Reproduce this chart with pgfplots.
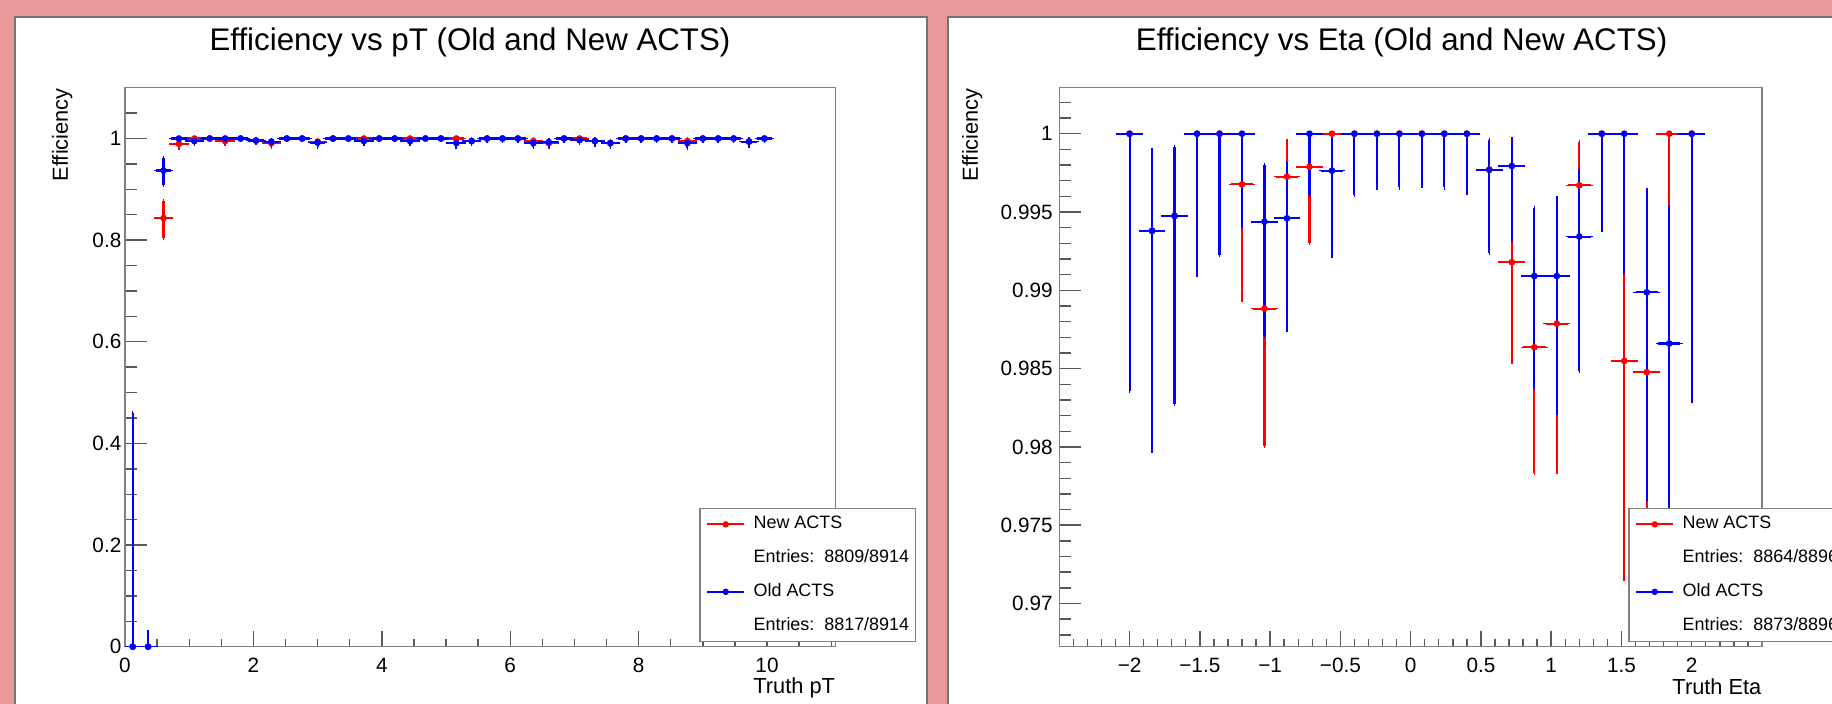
\documentclass[border=0pt]{standalone}
\usepackage{fontspec}
\setmainfont{Liberation Sans}
\usepackage{pgfplots}
\usepackage{pgfplotstable}
\pgfplotsset{compat=1.18}
\definecolor{bgpink}{RGB}{233,153,153}
\definecolor{rred}{RGB}{255,0,0}
\definecolor{rblue}{RGB}{0,0,255}

% pT: x, y, x error, y error plus, y error minus
\pgfplotstableread{
x y ex ep em
0.12 0 0.12 0.46 0
0.36 0 0.12 0.028 0
0.60 0.8435 0.12 0.034 0.040
0.84 0.9895 0.12 0.005 0.008
1.08 1 0.12 0 0.003
1.32 1 0.12 0 0.003
1.56 0.995 0.12 0.003 0.006
1.80 1 0.12 0 0.003
2.04 0.996 0.12 0.003 0.005
2.28 0.991 0.12 0.004 0.008
2.52 1 0.12 0 0.003
2.76 1 0.12 0 0.003
3.00 0.994 0.12 0.003 0.007
3.24 1 0.12 0 0.003
3.48 1 0.12 0 0.003
3.72 1 0.12 0 0.003
3.96 1 0.12 0 0.003
4.20 1 0.12 0 0.003
4.44 1 0.12 0 0.003
4.68 1 0.12 0 0.003
4.92 1 0.12 0 0.003
5.16 1 0.12 0 0.004
5.40 0.995 0.12 0.003 0.006
5.64 1 0.12 0 0.004
5.88 1 0.12 0 0.004
6.12 1 0.12 0 0.004
6.36 0.995 0.12 0.003 0.007
6.60 0.991 0.12 0.004 0.008
6.84 1 0.12 0 0.004
7.08 1 0.12 0 0.004
7.32 0.995 0.12 0.003 0.007
7.56 0.991 0.12 0.004 0.008
7.80 1 0.12 0 0.004
8.04 1 0.12 0 0.004
8.28 1 0.12 0 0.004
8.52 1 0.12 0 0.004
8.76 0.995 0.12 0.003 0.007
9.00 1 0.12 0 0.004
9.24 1 0.12 0 0.004
9.48 1 0.12 0 0.004
9.72 0.994 0.12 0.004 0.008
9.96 1 0.12 0 0.005
}\ptnew

\pgfplotstableread{
x y ex ep em
0.12 0 0.12 0.46 0
0.36 0 0.12 0.028 0
0.60 0.937 0.12 0.024 0.029
0.84 1 0.12 0 0.004
1.08 0.995 0.12 0.003 0.006
1.32 1 0.12 0 0.003
1.56 1 0.12 0 0.003
1.80 1 0.12 0 0.003
2.04 0.996 0.12 0.003 0.005
2.28 0.994 0.12 0.003 0.007
2.52 1 0.12 0 0.003
2.76 1 0.12 0 0.003
3.00 0.992 0.12 0.004 0.008
3.24 1 0.12 0 0.003
3.48 1 0.12 0 0.003
3.72 0.995 0.12 0.003 0.006
3.96 1 0.12 0 0.003
4.20 1 0.12 0 0.003
4.44 0.995 0.12 0.003 0.006
4.68 1 0.12 0 0.003
4.92 1 0.12 0 0.003
5.16 0.991 0.12 0.004 0.008
5.40 0.995 0.12 0.003 0.006
5.64 1 0.12 0 0.004
5.88 1 0.12 0 0.004
6.12 1 0.12 0 0.004
6.36 0.991 0.12 0.004 0.008
6.60 0.993 0.12 0.004 0.007
6.84 1 0.12 0 0.004
7.08 0.997 0.12 0.002 0.006
7.32 0.995 0.12 0.003 0.007
7.56 0.991 0.12 0.004 0.008
7.80 1 0.12 0 0.004
8.04 1 0.12 0 0.004
8.28 1 0.12 0 0.004
8.52 1 0.12 0 0.004
8.76 0.991 0.12 0.004 0.009
9.00 1 0.12 0 0.004
9.24 1 0.12 0 0.004
9.48 1 0.12 0 0.004
9.72 0.994 0.12 0.004 0.008
9.96 1 0.12 0 0.005
}\ptold

% Eta
\pgfplotstableread{
x y ex ep em
-2.00 1 0.08 0 0.01645
-1.84 0.9938 0.08 0.00517 0.01404
-1.68 0.99475 0.08 0.00439 0.01198
-1.52 1 0.08 0 0.00901
-1.36 1 0.08 0 0.00772
-1.20 0.99677 0.08 0.0027 0.00739
-1.04 0.98883 0.08 0.0067 0.00878
-0.88 0.99726 0.08 0.00227 0.00617
-0.72 0.99789 0.08 0.00177 0.00485
-0.56 1 0.08 0 0.00436
-0.40 1 0.08 0 0.00389
-0.24 1 0.08 0 0.00343
-0.08 1 0.08 0 0.00343
0.08 1 0.08 0 0.00332
0.24 1 0.08 0 0.00343
0.40 1 0.08 0 0.00379
0.56 0.9977 0.08 0.0019 0.0053
0.72 0.99179 0.08 0.00393 0.00639
0.88 0.98636 0.08 0.00541 0.00803
1.04 0.98787 0.08 0.00576 0.00946
1.20 0.9967 0.08 0.00275 0.00744
1.36 1 0.08 0 0.00617
1.52 0.98549 0.08 0.00791 0.01391
1.68 0.98477 0.08 0.00829 0.0093
1.84 1 0.08 0 0.0053
2.00 1 0.08 0 0.01708
}\etanew

\pgfplotstableread{
x y ex ep em
-2.00 1 0.08 0 0.01645
-1.84 0.9938 0.08 0.00517 0.01404
-1.68 0.99475 0.08 0.00439 0.01198
-1.52 1 0.08 0 0.00901
-1.36 1 0.08 0 0.00772
-1.20 1 0.08 0 0.00591
-1.04 0.99438 0.08 0.00362 0.0073
-0.88 0.9946 0.08 0.00349 0.00713
-0.72 1 0.08 0 0.00391
-0.56 0.99764 0.08 0.00193 0.00545
-0.40 1 0.08 0 0.00389
-0.24 1 0.08 0 0.00343
-0.08 1 0.08 0 0.00343
0.08 1 0.08 0 0.00332
0.24 1 0.08 0 0.00343
0.40 1 0.08 0 0.00379
0.56 0.9977 0.08 0.0019 0.0053
0.72 0.99794 0.08 0.00172 0.00471
0.88 0.99091 0.08 0.00437 0.00713
1.04 0.99091 0.08 0.00496 0.00877
1.20 0.99343 0.08 0.00425 0.00858
1.36 1 0.08 0 0.00617
1.52 1 0.08 0 0.00885
1.68 0.98987 0.08 0.00656 0.01322
1.84 0.9866 0.08 0.0087 0.0121
2.00 1 0.08 0 0.01708
}\etaold

\newcommand\tickfont{\fontsize{5.9}{7}\selectfont}
\newcommand\labfont{\fontsize{6.2}{7.5}\selectfont}
\newcommand\legfont{\fontsize{5.1}{6}\selectfont}
\newcommand\titfont{\fontsize{8.9}{10.5}\selectfont}

\pgfplotsset{
  rootbase/.style={
    scale only axis, height=5.59cm,
    axis line style={draw=black!50, line width=0.4pt},
    tick style={draw=black!65, line width=0.4pt},
    tick align=inside, tick pos=left,
    tick label style={font=\tickfont, inner sep=0pt},
    xticklabel style={yshift=-0.11cm},
    /pgf/number format/assume math mode=true,
  },
  rootdata/.style={
    only marks, mark=*, mark size=0.75pt, forget plot,
    error bars/.cd, x dir=both, x explicit, y dir=both, y explicit,
    error bar style={line width=0.6pt},
    error mark options={mark size=0.6pt, line width=0.45pt},
  },
  rootlegend/.style={
    legend image code/.code={%
      \draw[##1, line width=0.55pt] (0cm,0cm) -- (0.37cm,0cm);
      \fill[##1] (0.185cm,0cm) circle (0.7pt);},
    legend cell align=left,
    legend style={anchor=north west, draw=black!50, line width=0.4pt,
      fill=white, font=\legfont, inner xsep=1.8pt, inner ysep=2.05pt,
      row sep=4.6pt,
      nodes={inner sep=0pt, text height=3.8pt, text depth=1.2pt},
      /tikz/every odd column/.append style={column sep=2.4pt}},
  },
}

\begin{document}
\begin{tikzpicture}
\useasboundingbox (0,0) rectangle (18.32cm,7.04cm);
\clip (0,0) rectangle (18.32cm,7.04cm);
\fill[bgpink] (-0.1cm,-0.1cm) rectangle (18.5cm,7.2cm);
\filldraw[fill=white, draw=black!55, line width=0.6pt] (0.15cm,-0.2cm) rectangle (9.27cm,6.87cm);
\filldraw[fill=white, draw=black!55, line width=0.6pt] (9.48cm,-0.2cm) rectangle (19.2cm,6.87cm);

\node[anchor=base, font=\titfont, inner sep=0pt] at (4.70cm,6.537cm) {Efficiency vs pT (Old and New ACTS)};
\node[anchor=base, font=\titfont, inner sep=0pt] at (14.016cm,6.537cm) {Efficiency vs Eta (Old and New ACTS)};

% ---------- left panel: long y ticks ----------
\begin{axis}[rootbase, at={(1.25cm,0.573cm)}, anchor=south west, width=7.107cm,
  xmin=0, xmax=11.07, ymin=0, ymax=1.1,
  axis line style={draw=none},
  xtick=\empty, minor xtick={},
  ytick={0,0.2,0.4,0.6,0.8,1}, yticklabels={},
  minor ytick={0.05,0.1,0.15,0.25,0.3,0.35,0.45,0.5,0.55,0.65,0.7,0.75,0.85,0.9,0.95,1.05},
  major tick length=0.22cm, minor tick length=0.12cm]
\end{axis}

% ---------- left panel: main ----------
\begin{axis}[rootbase, rootlegend, at={(1.25cm,0.573cm)}, anchor=south west, width=7.107cm,
  xmin=0, xmax=11.07, ymin=0, ymax=1.1,
  xtick={0,2,4,6,8,10}, xticklabels={0,2,4,6,8,10},
  minor xtick={0.5,1,1.5,2.5,3,3.5,4.5,5,5.5,6.5,7,7.5,8.5,9,9.5,10.5,11},
  ytick={0,0.2,0.4,0.6,0.8,1}, yticklabels={0,0.2,0.4,0.6,0.8,1},
  yticklabel style={xshift=-0.03cm},
  minor ytick={0.05,0.1,0.15,0.25,0.3,0.35,0.45,0.5,0.55,0.65,0.7,0.75,0.85,0.9,0.95,1.05},
  major tick length=0.16cm, minor tick length=0.075cm,
  xlabel={Truth pT}, xlabel style={font=\labfont, at={(rel axis cs:1,0)}, anchor=north east, inner sep=0pt, yshift=-0.30cm},
  ylabel={Efficiency}, ylabel style={font=\labfont, at={(rel axis cs:-0.0884,1)}, anchor=east, inner sep=0pt},
  legend style={at={(0.808,0.2487)}}]
\addplot[rred, rootdata] table[x=x, y=y, x error=ex, y error plus=ep, y error minus=em] {\ptnew};
\addplot[rblue, rootdata] table[x=x, y=y, x error=ex, y error plus=ep, y error minus=em] {\ptold};
\addlegendimage{rred}
\addlegendentry{New ACTS}
\addlegendimage{empty legend}
\addlegendentry{Entries:\ \ 8809/8914}
\addlegendimage{rblue}
\addlegendentry{Old ACTS}
\addlegendimage{empty legend}
\addlegendentry{Entries:\ \ 8817/8914}
\end{axis}

% ---------- right panel: long y ticks ----------
\begin{axis}[rootbase, at={(10.593cm,0.573cm)}, anchor=south west, width=7.027cm,
  xmin=-2.5, xmax=2.5, ymin=0.96724, ymax=1.00294,
  axis line style={draw=none},
  xtick=\empty, minor xtick={},
  ytick={0.97,0.975,0.98,0.985,0.99,0.995,1}, yticklabels={},
  minor ytick={0.968,0.969,0.971,0.972,0.973,0.974,0.976,0.977,0.978,0.979,0.981,0.982,0.983,0.984,0.986,0.987,0.988,0.989,0.991,0.992,0.993,0.994,0.996,0.997,0.998,0.999,1.001,1.002},
  major tick length=0.22cm, minor tick length=0.12cm]
\end{axis}

% ---------- right panel: main ----------
\begin{axis}[rootbase, rootlegend, at={(10.593cm,0.573cm)}, anchor=south west, width=7.027cm,
  xmin=-2.5, xmax=2.5, ymin=0.96724, ymax=1.00294,
  xtick={-2,-1.5,-1,-0.5,0,0.5,1,1.5,2},
  xticklabels={−2,−1.5,−1,−0.5,0,0.5,1,1.5,2},
  minor xtick={-2.4,-2.3,-2.2,-2.1,-1.9,-1.8,-1.7,-1.6,-1.4,-1.3,-1.2,-1.1,-0.9,-0.8,-0.7,-0.6,-0.4,-0.3,-0.2,-0.1,0.1,0.2,0.3,0.4,0.6,0.7,0.8,0.9,1.1,1.2,1.3,1.4,1.6,1.7,1.8,1.9,2.1,2.2,2.3,2.4},
  ytick={0.97,0.975,0.98,0.985,0.99,0.995,1},
  yticklabels={0.97,0.975,0.98,0.985,0.99,0.995,1},
  yticklabel style={xshift=-0.06cm},
  minor ytick={0.968,0.969,0.971,0.972,0.973,0.974,0.976,0.977,0.978,0.979,0.981,0.982,0.983,0.984,0.986,0.987,0.988,0.989,0.991,0.992,0.993,0.994,0.996,0.997,0.998,0.999,1.001,1.002},
  major tick length=0.16cm, minor tick length=0.075cm,
  xlabel={Truth Eta}, xlabel style={font=\labfont, at={(rel axis cs:1,0)}, anchor=north east, inner sep=0pt, yshift=-0.31cm},
  ylabel={Efficiency}, ylabel style={font=\labfont, at={(rel axis cs:-0.124,1)}, anchor=east, inner sep=0pt},
  legend style={at={(0.8097,0.2487)}}]
\addplot[rred, rootdata] table[x=x, y=y, x error=ex, y error plus=ep, y error minus=em] {\etanew};
\addplot[rblue, rootdata] table[x=x, y=y, x error=ex, y error plus=ep, y error minus=em] {\etaold};
\addlegendimage{rred}
\addlegendentry{New ACTS}
\addlegendimage{empty legend}
\addlegendentry{Entries:\ \ 8864/8896}
\addlegendimage{rblue}
\addlegendentry{Old ACTS}
\addlegendimage{empty legend}
\addlegendentry{Entries:\ \ 8873/8896}
\end{axis}
\end{tikzpicture}
\end{document}
